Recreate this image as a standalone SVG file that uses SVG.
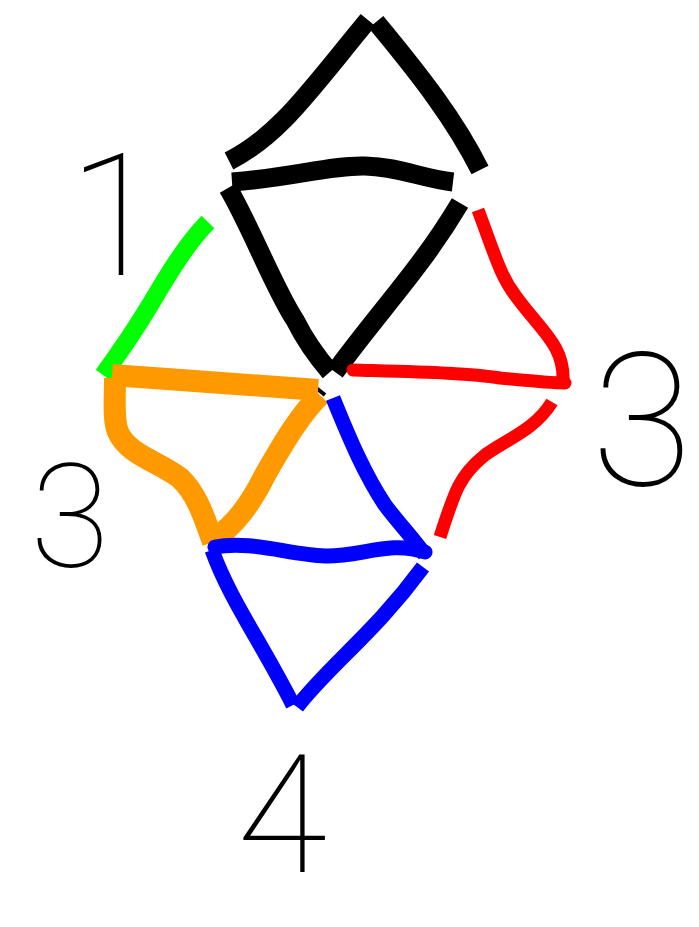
<svg xmlns="http://www.w3.org/2000/svg" width="699" height="927" viewBox="0 0 699 927">
<style>
.s{fill:none;stroke-linejoin:round}
.k{stroke:#000;stroke-width:19}
.r{stroke:#ff0000;stroke-width:13}
.g{stroke:#00ff00;stroke-width:18}
.o{stroke:#ff9900;stroke-width:22}
.b{stroke:#0000ff;stroke-width:15}
.n{font-family:Roboto,"DejaVu Sans",sans-serif;font-weight:100;fill:#000;text-anchor:middle}
</style>
<rect width="699" height="927" fill="#fff"/>
<g id="black-roof">
<path class="s k" d="M229,161 C280,135 310,90 368,20"/>
<path class="s k" d="M376,22 C420,75 455,120 480,170"/>
</g>
<g id="black-triangle">
<path class="s k" d="M232,182 C290,178 330,165 365,166 C400,167 420,178 453,182"/>
<path class="s k" d="M228,188 C250,225 275,290 295,320 C305,340 318,358 330,372"/>
<path class="s k" d="M460,203 C420,270 380,310 335,372"/>
<path class="s" stroke="#000" stroke-width="4" d="M315,387 L325,395"/>
</g>
<g id="red-shape">
<path class="s r" d="M478,210 C495,255 500,275 515,295 C540,330 565,345 563,382"/>
<path class="s r" stroke-linecap="round" d="M353,370 C420,372 470,373 500,378 C530,381 550,383 565,383"/>
<path class="s r" d="M552,402 C535,430 505,440 485,455 C460,475 455,490 440,537"/>
</g>
<g id="green-edge">
<path class="s g" d="M208,222 C185,245 165,280 150,305 C135,330 120,352 103,375"/>
</g>
<g id="orange-triangle">
<path class="s o" d="M112,375 C180,380 250,385 318,390"/>
<path class="s o" d="M320,395 C300,415 285,440 265,475 C250,505 235,525 213,540"/>
<path class="s o" d="M115,378 C115,400 113,420 118,432 C128,455 160,462 180,478 C198,495 205,520 213,542"/>
</g>
<g id="blue-shape">
<path class="s b" d="M333,398 C350,440 365,475 385,505 C400,525 415,540 425,555"/>
<path class="s b" stroke-linecap="round" d="M215,547 C250,540 290,555 325,556 C360,557 390,540 425,552"/>
<path class="s b" d="M212,550 C230,600 260,640 293,705"/>
<path class="s b" d="M423,567 C395,605 370,630 345,655 C325,675 310,690 297,707"/>
</g>
<g id="labels">
<text class="n" x="115" y="275" font-size="170">1</text>
<text class="n" x="70" y="567" font-size="145">3</text>
<text class="n" x="642" y="485" font-size="185">3</text>
<text class="n" x="282" y="872" font-size="165">4</text>
</g>
</svg>
